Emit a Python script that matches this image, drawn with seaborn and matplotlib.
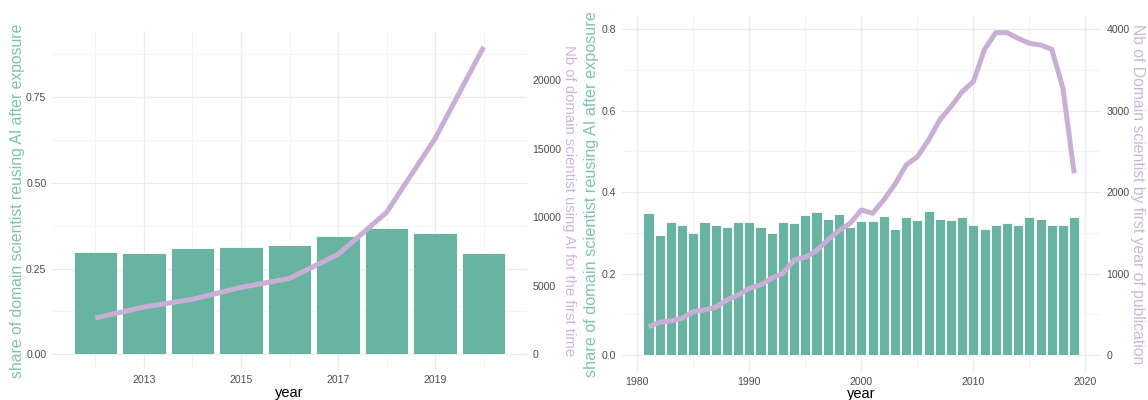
import matplotlib
matplotlib.use("Agg")
import matplotlib.pyplot as plt
import pandas as pd
import seaborn as sns
from matplotlib.ticker import FixedLocator

# Left panel: recent years
years_recent = [2012, 2013, 2014, 2015, 2016, 2017, 2018, 2019, 2020]
share_recent = [0.299, 0.297, 0.310, 0.312, 0.320, 0.344, 0.368, 0.354, 0.297]
first_time_users = [2650, 3450, 4010, 4880, 5540, 7290, 10350, 15740, 22420]

# Right panel: 1981-2019
years_all = list(range(1981, 2020))
share_all = [0.348, 0.294, 0.327, 0.320, 0.300, 0.327, 0.320, 0.315, 0.327, 0.327,
             0.314, 0.299, 0.327, 0.324, 0.344, 0.351, 0.333, 0.346, 0.314, 0.328,
             0.328, 0.341, 0.309, 0.340, 0.331, 0.353, 0.335, 0.331, 0.338, 0.319,
             0.309, 0.320, 0.324, 0.320, 0.340, 0.333, 0.320, 0.320, 0.340]
scientists_by_year = [348, 401, 418, 451, 532, 553, 586, 676, 737, 819,
                      860, 942, 1004, 1167, 1200, 1282, 1413, 1527, 1618, 1781,
                      1741, 1904, 2097, 2334, 2436, 2641, 2887, 3051, 3235, 3358,
                      3755, 3960, 3960, 3890, 3829, 3808, 3755, 3276, 2232]

bar_color = "#69b3a2"
line_color = "#c9aed6"
left_title_color = "#7dc3ae"
right_title_color = "#cfb5db"
tick_color = "#4d4d4d"

sns.set_theme(style="white")
plt.rcParams["font.family"] = ["Liberation Sans", "DejaVu Sans"]

fig = plt.figure(figsize=(11.48, 4), dpi=100)
ax1 = fig.add_axes([0.0453, 0.0758, 0.4138, 0.8457])
ax2 = fig.add_axes([0.5415, 0.0723, 0.4176, 0.8868])


def draw_panel(ax, years, share, counts, scale, xlim, ylim, xmaj, xmin, ymaj, ymin,
               sec_ticks, left_title, right_title, lsize, rsize, lpad, rpad):
    df = pd.DataFrame({"year": years, "share": share, "count": counts})
    df["scaled"] = df["count"] / scale
    sns.barplot(data=df, x="year", y="share", native_scale=True, width=0.9,
                color=bar_color, saturation=1, edgecolor="white", linewidth=0.6, ax=ax)
    sns.lineplot(data=df, x="year", y="scaled", color=line_color, lw=3.6,
                 solid_capstyle="butt", ax=ax)
    ax.set_xlim(*xlim)
    ax.set_ylim(*ylim)
    ax.xaxis.set_major_locator(FixedLocator(xmaj))
    ax.xaxis.set_minor_locator(FixedLocator(xmin))
    ax.yaxis.set_major_locator(FixedLocator(ymaj))
    ax.yaxis.set_minor_locator(FixedLocator(ymin))
    ax.set_xticklabels([str(x) for x in xmaj])
    ax.grid(which="major", color="#ebebeb", lw=0.9)
    ax.grid(which="minor", color="#f3f3f3", lw=0.6)
    ax.set_axisbelow(True)
    for s in ax.spines.values():
        s.set_visible(False)
    ax.tick_params(which="both", length=0, labelsize=7.6, colors=tick_color, pad=4)
    ax.set_xlabel("year", fontsize=10.5, color="black", labelpad=0.5)
    ax.set_ylabel(left_title, fontsize=lsize, color=left_title_color, labelpad=lpad)

    sec = ax.secondary_yaxis("right", functions=(lambda v: v * scale, lambda v: v / scale))
    sec.set_yticks(sec_ticks)
    sec.set_yticklabels([str(t) for t in sec_ticks])
    sec.spines["right"].set_visible(False)
    sec.tick_params(length=0, labelsize=7.6, colors=tick_color, pad=4)
    sec.set_ylabel(right_title, fontsize=rsize, color=right_title_color,
                   rotation=270, va="bottom", labelpad=rpad)


draw_panel(ax1, years_recent, share_recent, first_time_users, 25000,
           (2011.105, 2020.895), (-0.0448, 0.942),
           [2013, 2015, 2017, 2019], [2012, 2014, 2016, 2018, 2020],
           [0, 0.25, 0.5, 0.75], [0.125, 0.375, 0.625, 0.875],
           [0, 5000, 10000, 15000, 20000],
           "share of domain scientist reusing AI after exposure",
           "Nb of domain scientist using AI for the first time", 11.3, 10.7, 0.5, 0.5)
ax1.set_yticklabels(["0.00", "0.25", "0.50", "0.75"])

draw_panel(ax2, years_all, share_all, scientists_by_year, 5000,
           (1978.6, 2021.4), (-0.0396, 0.832),
           [1980, 1990, 2000, 2010, 2020], [1985, 1995, 2005, 2015],
           [0, 0.2, 0.4, 0.6, 0.8], [0.1, 0.3, 0.5, 0.7],
           [0, 1000, 2000, 3000, 4000],
           "share of domain scientist reusing AI after exposure",
           "Nb of Domain scientist by first year of publication", 11.7, 11.3, 2, 0.5)
ax2.set_yticklabels(["0.0", "0.2", "0.4", "0.6", "0.8"])

fig.savefig("out.png", dpi=100)
